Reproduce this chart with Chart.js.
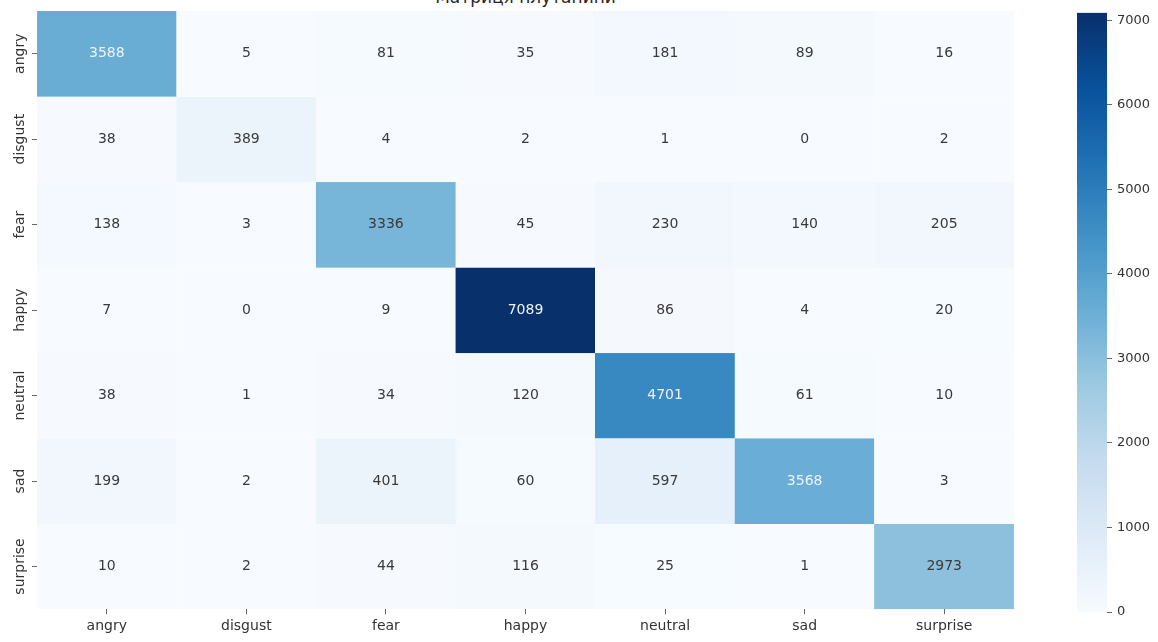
<!DOCTYPE html>
<html>
<head>
<meta charset="utf-8">
<script src="https://cdn.jsdelivr.net/npm/chart.js@4/dist/chart.umd.min.js"></script>
<style>
  html, body { margin: 0; padding: 0; background: #fff; overflow: hidden; }
  #wrap { position: relative; width: 1158px; height: 642px; overflow: hidden; }
  #heat { position: absolute; left: 0; top: 0; }
  #cbar { position: absolute; left: 1040px; top: 0; }
  #title {
    position: absolute; left: 0; width: 1051px; top: -13px; text-align: center;
    font: 17px "DejaVu Sans", sans-serif; color: #262626;
  }
</style>
</head>
<body>
<div id="wrap">
  <div id="title">Матриця плутанини</div>
  <canvas id="heat" width="1040" height="642"></canvas>
  <canvas id="cbar" width="118" height="642"></canvas>
</div>
<script>
// true labels (rows) and predicted labels (columns)
const rowLabels = ['angry', 'disgust', 'fear', 'happy', 'neutral', 'sad', 'surprise'];
const colLabels = ['angry', 'disgust', 'fear', 'happy', 'neutral', 'sad', 'surprise'];

// counts per true class
const angryRow    = [3588, 5, 81, 35, 181, 89, 16];
const disgustRow  = [38, 389, 4, 2, 1, 0, 2];
const fearRow     = [138, 3, 3336, 45, 230, 140, 205];
const happyRow    = [7, 0, 9, 7089, 86, 4, 20];
const neutralRow  = [38, 1, 34, 120, 4701, 61, 10];
const sadRow      = [199, 2, 401, 60, 597, 3568, 3];
const surpriseRow = [10, 2, 44, 116, 25, 1, 2973];
const rows = [angryRow, disgustRow, fearRow, happyRow, neutralRow, sadRow, surpriseRow];

const colorbarTicks = [0, 1000, 2000, 3000, 4000, 5000, 6000, 7000];

const vmax = Math.max(...rows.flat());

// matplotlib "Blues"
const bluesStops = ['#f7fbff', '#deebf7', '#c6dbef', '#9ecae1', '#6baed6', '#4292c6', '#2171b5', '#08519c', '#08306b'];
function hexToRgb(h) {
  return [parseInt(h.slice(1, 3), 16), parseInt(h.slice(3, 5), 16), parseInt(h.slice(5, 7), 16)];
}
function blues(t) {
  t = Math.max(0, Math.min(1, t));
  const n = bluesStops.length - 1;
  const p = t * n;
  const i = Math.min(Math.floor(p), n - 1);
  const f = p - i;
  const a = hexToRgb(bluesStops[i]), b = hexToRgb(bluesStops[i + 1]);
  const c = a.map((v, k) => Math.round(v + (b[k] - v) * f));
  return `rgb(${c[0]}, ${c[1]}, ${c[2]})`;
}

Chart.defaults.font.family = '"DejaVu Sans", sans-serif';
Chart.defaults.font.size = 14;
Chart.defaults.color = '#333';

// values in the cells + rotated row labels
const heatLabels = {
  id: 'heatLabels',
  afterDatasetsDraw(chart) {
    const ctx = chart.ctx;
    ctx.save();
    ctx.font = '14px "DejaVu Sans", sans-serif';
    ctx.textAlign = 'center';
    ctx.textBaseline = 'middle';
    rows.forEach((row, i) => {
      const meta = chart.getDatasetMeta(i);
      meta.data.forEach((bar, j) => {
        const v = row[j];
        ctx.fillStyle = v / vmax > 0.49 ? '#eef3fa' : '#3a3a3a';
        ctx.fillText(String(v), bar.x, (bar.y + bar.base) / 2);
      });
    });
    const y = chart.scales.y;
    ctx.fillStyle = '#333';
    y.ticks.forEach((t, i) => {
      ctx.save();
      ctx.translate(y.left - 12, y.getPixelForValue(t.value));
      ctx.rotate(-Math.PI / 2);
      ctx.fillText(rowLabels[i], 0, 0);
      ctx.restore();
    });
    ctx.restore();
  }
};

new Chart(document.getElementById('heat'), {
  type: 'bar',
  data: {
    labels: colLabels,
    datasets: rows.map((row, i) => ({
      label: rowLabels[i],
      data: row.map(() => [i, i + 1]),
      backgroundColor: row.map(v => blues(v / vmax)),
      borderColor: row.map(v => blues(v / vmax)),
      borderWidth: 0.5,
      grouped: false,
      barPercentage: 1,
      categoryPercentage: 1
    }))
  },
  options: {
    responsive: false,
    animation: false,
    layout: { padding: { left: 32, top: 11, right: 26, bottom: 3 } },
    plugins: { legend: { display: false }, tooltip: { enabled: false } },
    scales: {
      x: {
        grid: { drawOnChartArea: false, offset: false, tickLength: 5, color: '#666' },
        border: { display: false },
        ticks: { color: '#333', padding: 4 }
      },
      y: {
        type: 'linear',
        min: 0,
        max: rowLabels.length,
        reverse: true,
        afterBuildTicks: axis => {
          axis.ticks = rowLabels.map((_, i) => ({ value: i + 0.5 }));
        },
        grid: { drawOnChartArea: false, tickLength: 5, color: '#666' },
        border: { display: false },
        ticks: { display: false }
      }
    }
  },
  plugins: [heatLabels]
});

// colorbar
new Chart(document.getElementById('cbar'), {
  type: 'bar',
  data: {
    labels: [''],
    datasets: [{
      data: [[0, vmax]],
      backgroundColor: (c) => {
        const chart = c.chart;
        if (!chart.chartArea) return bluesStops[4];
        const y = chart.scales.y;
        const g = chart.ctx.createLinearGradient(0, y.getPixelForValue(0), 0, y.getPixelForValue(vmax));
        bluesStops.forEach((s, i) => g.addColorStop(i / (bluesStops.length - 1), s));
        return g;
      },
      borderWidth: 0,
      barPercentage: 1,
      categoryPercentage: 1
    }]
  },
  options: {
    responsive: false,
    animation: false,
    layout: { padding: { left: 37, top: 11, right: 7, bottom: 30 } },
    plugins: { legend: { display: false }, tooltip: { enabled: false } },
    scales: {
      x: { display: false },
      y: {
        position: 'right',
        min: 0,
        max: vmax,
        afterBuildTicks: axis => {
          axis.ticks = colorbarTicks.map(v => ({ value: v }));
        },
        afterFit: axis => { axis.width = 44; },
        grid: { drawOnChartArea: false, tickLength: 5, color: '#666' },
        border: { display: false },
        ticks: { color: '#333', padding: 5, font: { size: 13 }, callback: v => String(v) }
      }
    }
  }
});
</script>
</body>
</html>
